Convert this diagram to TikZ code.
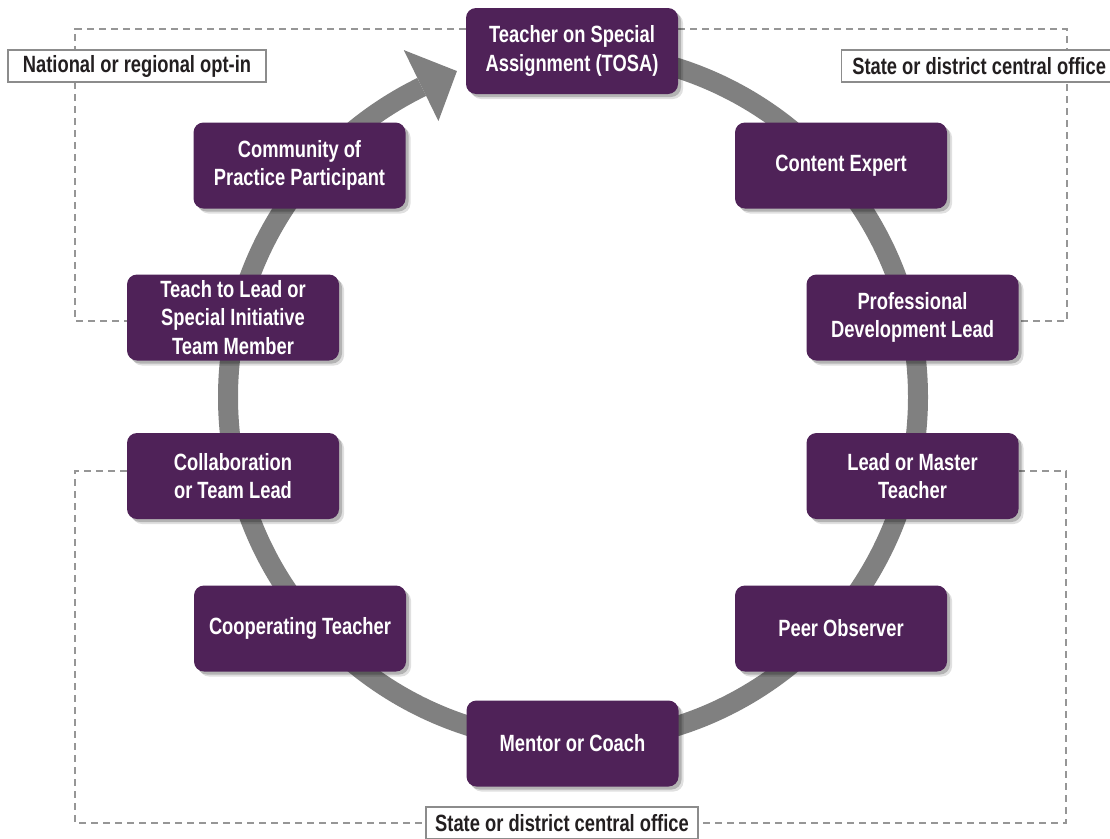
\documentclass[tikz,border=0pt]{standalone}
\usepackage{fontspec}
\setmainfont{Liberation Sans}[FakeStretch=0.78]
\usetikzlibrary{shadows,calc}
\definecolor{purp}{RGB}{79,34,88}
\definecolor{ringgray}{RGB}{128,128,128}
\definecolor{dashgray}{RGB}{150,150,150}
\definecolor{boxgray}{RGB}{140,140,140}
\definecolor{txt}{RGB}{35,31,32}
\pgfdeclarelayer{bg}
\pgfsetlayers{bg,main}
\begin{document}
\begin{tikzpicture}[x=1pt,y=-1pt,
  role/.style={fill=purp, text=white, rounded corners=10pt, minimum width=212pt,
    minimum height=86pt, align=center, inner sep=0pt,
    font=\fontsize{23.5}{28.5}\selectfont\bfseries,
    drop shadow={shadow xshift=5pt, shadow yshift=-5pt, opacity=0.12, fill=black},
    drop shadow={shadow xshift=3pt, shadow yshift=-3pt, opacity=0.2, fill=black}},
  tag/.style={draw=boxgray, line width=1.3pt, fill=white, text=txt, minimum height=32pt,
    inner xsep=6pt, inner ysep=0pt, font=\fontsize{23.5}{28}\selectfont\bfseries},
  dashline/.style={draw=dashgray, line width=1.5pt, dash pattern=on 7pt off 5pt},
  ring/.style={draw=ringgray, line width=20pt}]
\useasboundingbox (0,0) rectangle (1110,838);
\clip (0,0) rectangle (1110,838);
\begin{pgfonlayer}{bg}
\fill[white] (0,0) rectangle (1110,838);
\end{pgfonlayer}

% role nodes
\node[role] (tosa) at (572,51) {Teacher on Special\\Assignment (TOSA)};
\node[role] (content) at (841,165.5) {Content Expert};
\node[role] (pdl) at (912.5,317.5) {Professional\\Development Lead};
\node[role] (lmt) at (912.5,476) {Lead or Master\\Teacher};
\node[role] (peer) at (841,628.5) {Peer Observer};
\node[role] (mentor) at (572.5,743.5) {Mentor or Coach};
\node[role] (coop) at (300,628.5) {Cooperating Teacher};
\node[role] (collab) at (233,476) {Collaboration\\or Team Lead};
\node[role] (teach) at (233,317.5) {Teach to Lead or\\Special Initiative\\Team Member};
\node[role] (cop) at (299.5,165.5) {Community of\\Practice Participant};

\coordinate (C) at (573,397);
\coordinate (tl) at (75,29);
\coordinate (tlb) at (75,321);
\coordinate (tr) at (1067,29);
\coordinate (trb) at (1067,321);
\coordinate (bl) at (75,471);
\coordinate (blb) at (75,823);
\coordinate (brb) at (1066,823);
\coordinate (br) at (1066,471);

\begin{pgfonlayer}{bg}
% cycle ring with arrow
\draw[ring] (C) ++(-90:345) arc[start angle=-90, end angle=244, radius=345];
\fill[ringgray, shift={(C)}] (244:307) -- (250.4:346) -- (244:386) -- cycle;
% dashed brackets
\draw[dashline] (tosa.west |- tl) -- (tl) -- (tlb) -- (teach.west |- tlb);
\draw[dashline] (tosa.east |- tr) -- (tr) -- (trb) -- (pdl.east |- trb);
\draw[dashline] (collab.west |- bl) -- (bl) -- (blb) -- (brb) -- (br) -- (lmt.east |- br);
\end{pgfonlayer}

% labels
\node[tag, minimum width=258pt] (natl) at (137,66) {National or regional opt-in};
\node[tag, minimum width=275pt, anchor=west] (stateT) at (841,66) {State or district central office};
\node[tag, minimum width=272pt] (stateB) at (562,823) {State or district central office};
\end{tikzpicture}
\end{document}
